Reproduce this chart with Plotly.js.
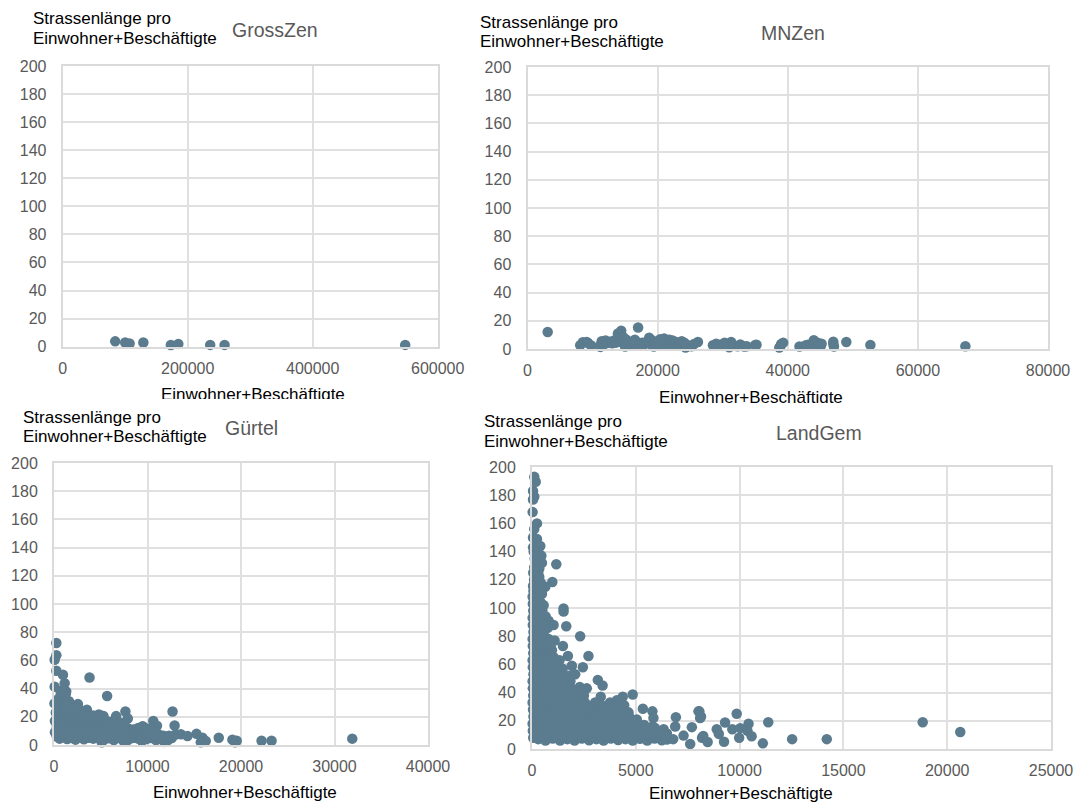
<!DOCTYPE html>
<html><head><meta charset="utf-8">
<script src="https://cdn.plot.ly/plotly-3.0.1.min.js"></script>
<style>
html,body{margin:0;padding:0;background:#fff;overflow:hidden}
#chart{width:1077px;height:804px}
.cut{position:absolute;background:#fff;height:6px}
</style></head><body>
<div id="chart"></div>
<div class="cut" style="left:150px;top:399px;width:210px"></div>
<div class="cut" style="left:640px;top:403px;width:220px"></div>
<script>
const grossZen = [[84000,3.8],[100000,3],[107000,2.3],[129000,3],[173000,1.2],[185000,2],[236000,1.3],[259000,1.3],[548000,1.3]];

const mnZen = [[3100,12],[8100,2.6],[8500,4.8],[9100,5],[9300,4.2],[9800,2.5],[11200,1.5],[11400,5.5],[11300,3.2],[11800,3.5],[12000,6],[12200,4.2],[12700,5.2],[13000,4],[13300,6],[13600,4.5],[13900,11],[14000,5.5],[14300,7.5],[14400,13],[14500,9.5],[14700,4],[14800,8],[15000,1.8],[15200,6.5],[15400,3.2],[15600,5],[15800,2.5],[16200,4],[16500,6.5],[16700,2.5],[16800,5],[17000,15.2],[17200,3.2],[17600,4.5],[18000,3.5],[18400,5.5],[18700,8],[18900,3.5],[19200,6],[19400,1.8],[19600,4],[19900,2.5],[20200,5],[20400,7],[20600,3],[20900,5],[21000,7.5],[21200,2.5],[21500,4.5],[21800,6.5],[22000,2.5],[22300,6],[22500,3.5],[22800,5],[23000,2.5],[23400,4],[23700,5.5],[23900,2.2],[24100,4.5],[24300,1],[24500,3],[25200,2],[25600,3.5],[26200,5],[28500,2.6],[29000,3.8],[29600,3],[30300,4.5],[30700,2.5],[31000,1.2],[31300,5],[31500,3],[32300,2],[32700,3.2],[33300,1.8],[33700,2],[35000,2.8],[35200,3],[38700,1],[38900,2.2],[39000,3.5],[39300,4.5],[41800,1.8],[42700,2.5],[43100,3],[44000,6.2],[44100,3],[44600,4.5],[45100,2.5],[45200,3.8],[47000,5.2],[47000,3.5],[47100,1.8],[49000,5],[52700,2.8],[67300,2]];

const guertelOutliers = [[250,72.4],[250,63.6],[70,60.5],[250,52.6],[960,49.8],[3800,47.9],[5680,34.8],[70,41.4],[1140,43.8],[1310,37.9],[50,29.5],[3520,25],[2560,29],[1500,30.7],[6640,20.5],[7640,23.8],[7890,18.8],[4800,21.7],[12680,23.8],[10620,17],[11010,13.6],[12900,13.8],[9480,13.3],[13570,7.6],[14280,6.4],[15240,7.9],[15880,5.2],[16230,2.9],[15700,1.9],[17620,5.2],[19080,3.8],[19360,1.9],[19540,3],[22200,3],[23270,3],[31900,4.5]];
const guertelDense = [[300,6],[600,4.5],[1000,6],[1400,4.2],[1900,5],[2300,3.8],[2800,5.5],[3200,4],[3700,5.2],[4200,4.5],[4700,5.5],[5100,2],[5400,4],[5900,4.8],[6400,3.5],[6900,5.2],[7400,3.2],[7900,3.5],[8400,5],[9000,4.5],[9400,2.8],[9900,4.2],[10400,5],[10900,3.5],[11400,4.2],[11800,2.2],[12200,3.5],[12600,5],
[100,9],[500,9],[900,10],[1300,8.5],[1800,9.5],[2200,8.2],[2700,9.6],[3200,8.5],[3700,10],[4200,8.5],[4700,9.5],[5200,8],[5700,9.8],[6200,8.3],[6700,9.2],[7200,8],[7700,9.5],[8200,8],[8700,9],[9200,8],[9700,9.5],[10200,8.5],[10700,9],[11200,7.5],[11700,6.5],[12300,6.5],[13000,7.5],
[100,17],[300,13],[700,14],[1100,13],[1500,14.5],[2000,13],[2500,14],[3000,12.5],[3500,14],[4000,13],[4500,14],[5000,13],[5500,13.5],[6000,12.5],[6500,13],[7000,12],[7500,13],[8000,11.5],[8500,11],[9000,12],[9500,13],[10000,11.5],[10500,11],
[200,18],[600,19],[1000,18],[1400,19.5],[1900,18],[2400,18.5],[2900,17.5],[3400,18],[3900,17],[4400,17.5],[4900,18.5],[5400,17],[5900,16.5],[6400,17],[7000,16],[7500,15.5],
[200,23],[600,24],[1000,23],[1400,24.5],[1900,23],[2400,22.5],[3000,22],[3500,21],[4600,20.5],[5000,21],[5300,20.5],
[300,28],[700,29],[1100,28],[1500,29],[2000,28],[2500,26.5],
[500,33],[800,34],[1200,33],[1600,31],
[700,38],[1000,39],[1250,36]];
const guertelFill = [[1700,26],[2200,25],[2800,24.5],[900,31],[1300,27],[3300,16],[3800,15],[4300,16],[4800,16],[5300,15],[5800,15],[6300,15],[6800,14.5],[7300,11],[7800,6.5],[8300,6.5],[8800,6.5],[9300,6],[9800,6.5],[10300,6.5],[10800,6],[11300,6],[600,7],[1100,7.5],[1600,7],[2100,6.5],[2600,7],[3100,6.5],[3600,7],[4100,6.5],[4600,7],[5100,6],[5600,6.5],[6100,6.5],[6600,6.5],[7100,6],[7600,6],[4200,21],[3700,20],[6600,10.5],[5600,10.5],[4600,11],[3600,11],[2600,11],[1600,11],[600,11.5]];

const landGemOutliers = [[110,193],[180,189.5],[50,183],[110,179],[50,177],[30,168],[240,160],[110,156],[50,150],[240,149],[50,143],[400,144],[450,137],[1170,131],[480,132],[110,129],[240,125],[980,118.5],[640,115],[50,115.6],[1520,99.6],[1520,97.5],[800,91],[1040,88],[1650,87],[2320,80],[1090,77],[1490,73],[960,70],[1730,66],[2720,66],[1920,59],[2450,58],[1330,63],[2080,53],[3170,49],[3400,45],[2640,43],[2300,44],[3310,37],[3040,33],[4370,37],[4850,38.6],[4080,34.5],[3760,33],[4440,31],[5340,28.6],[5800,26.7],[5850,22],[6930,22.6],[8020,26.7],[8100,22],[7700,15.5],[6900,16],[6340,14],[7620,3.6],[8190,8],[7300,9.5],[6500,6.7],[8060,26.7],[8140,23],[8250,9.3],[8460,5],[8900,14],[9000,10.7],[9250,5.2],[9300,18.8],[9650,14],[9860,25],[9980,8],[10030,14.8],[10430,17.9],[10380,13],[10580,9],[11120,4],[11380,19],[12530,7],[14200,7],[18820,19],[20630,12]];
const landGemColumn = [[60,8],[40,13],[30,18],[70,23],[50,28],[30,33],[60,38],[40,43],[30,48],[70,53],[40,58],[30,63],[60,68],[40,73],[30,78],[70,83],[40,88],[30,93],[60,98],[40,103],[30,108],[70,112],[100,120],[60,125],[130,135],[80,140],[200,108],[230,115],[180,122],[280,118],[250,132],[350,128],[300,140],[380,112],[420,104],[480,110],[170,100],[330,96],[500,98],[560,102],[190,90],[370,86],[550,92],[660,94],[200,80],[400,78],[600,84],[760,86],[200,70],[400,72],[620,75],[800,78],[180,62],[380,64],[580,66],[780,70]];
const landGemDense = [[300,7],[650,6],[1000,7.5],[1350,6],[1700,7],[2050,6],[2400,7.5],[2750,6.2],[3100,7],[3450,6],[3800,7.5],[4150,6.3],[4500,7],[4850,6],[5200,7.2],[5550,6],[5900,7.5],[6250,6.2],[6800,7],
[150,12],[500,12.5],[850,11.5],[1200,13],[1550,11.5],[1900,12.5],[2250,11.5],[2600,13],[2950,11.8],[3300,12.5],[3650,11.5],[4000,13],[4350,11.5],[4700,12.5],[5050,11.5],[5400,13],[5750,11.8],[6100,12.5],[6500,11],
[150,17],[500,18],[850,16.5],[1200,18],[1550,16.5],[1900,18],[2250,16.5],[2600,18],[2950,16.8],[3300,17.5],[3650,16.5],[4000,18],[4350,16.5],[4700,17.5],[5050,16.5],[5400,17],[5800,16],
[150,22],[500,23],[850,21.5],[1200,23],[1550,21.5],[1900,23],[2250,21.5],[2600,23],[2950,21.8],[3300,22.5],[3650,21.5],[4000,23],[4350,22],[4700,22.5],[5050,21],
[150,27],[500,28],[850,26.5],[1200,28],[1550,26.5],[1900,28],[2250,26.5],[2600,28],[2950,26.8],[3300,27],[3650,26.5],[4000,28],[4300,27],[4650,26],
[150,32],[500,33],[850,31.5],[1200,33],[1550,31.5],[1900,33],[2250,31.5],[2550,33],[2900,30],[3350,31],[3700,30],[4000,31],
[150,37],[500,38],[850,36.5],[1200,38],[1550,36.5],[1900,38],[2250,36.5],[2500,38],
[150,42],[500,43],[850,41.5],[1200,43],[1550,41.5],[1900,43],[2150,41.5],
[150,47],[500,48],[850,46.5],[1200,48],[1550,46.5],[1850,48],
[150,52],[500,53],[850,51.5],[1200,53],[1500,51.5],[1800,52],
[150,57],[500,58],[850,56.5],[1200,58],[1480,57],
[220,60],[600,61],[950,61],[1250,60],
[700,66],[1050,65],[900,73]];
const landGemFill = [[480,9],[820,9],[1170,9.5],[1520,9],[1870,9.5],[2220,9],[2570,9.5],[2920,9],[3270,9.5],[3620,9],[3970,9.5],[4320,9],[4670,9.5],[5020,9],[5370,9.5],[5720,9],[6070,9.5],[6420,9],
[320,15],[670,14.5],[1020,15],[1370,14.5],[1720,15],[2070,14.5],[2420,15],[2770,14.5],[3120,15],[3470,14.5],[3820,15],[4170,14.5],[4520,15],[4870,14.5],[5220,15],[5570,14.5],[5920,15],
[320,20],[670,20],[1020,19.5],[1370,20],[1720,19.5],[2070,20],[2420,19.5],[2770,20],[3120,19.5],[3470,20],[3820,19.5],[4170,20],[4520,19.5],[4870,20],
[320,25],[670,25],[1020,24.5],[1370,25],[1720,24.5],[2070,25],[2420,24.5],[2770,25],[3120,24.5],[3470,25],[3820,24.5],[4170,25],
[320,30],[670,30],[1020,29.5],[1370,30],[1720,29.5],[2070,30],[2420,29.5],[2770,29],
[320,35],[670,35],[1020,34.5],[1370,35],[1720,34.5],[2070,35],[2350,34],
[320,40],[670,40],[1020,39.5],[1370,40],[1720,39.5],[2050,40],
[320,45],[670,45],[1020,44.5],[1370,45],[1720,44.5],
[320,50],[670,50],[1020,49.5],[1370,50],[1700,50],
[320,55],[670,55],[1020,54.5],[1350,55],
[450,60],[780,59],[1100,60],[550,72],[760,64],[450,82],[300,75],[500,90],[280,104],[420,118],[300,125],[200,130],[350,122]];

const yTicks = [0,20,40,60,80,100,120,140,160,180,200];
const W = 1077, H = 804, markerColor = '#5B7B8E', font = 'Liberation Sans, Arial, sans-serif';

const panels = [
  {pts:[grossZen], xMax:600000, dx:200000, x0:62.7, x1:437.7, yT:66, yB:346.7, name:'GrossZen', nameX:275, nameY:30,
   lines:[[31.5,19],[31.5,39]], xT:[253,394]},
  {pts:[mnZen], xMax:80000, dx:20000, x0:527.5, x1:1048, yT:67, yB:349, name:'MNZen', nameX:793, nameY:33,
   lines:[[478.5,22],[478.5,41]], xT:[751,397]},
  {pts:[guertelOutliers,guertelDense,guertelFill], xMax:40000, dx:10000, x0:54, x1:428, yT:463, yB:745, name:'Gürtel', nameX:251, nameY:428,
   lines:[[21.5,417],[21.5,436]], xT:[245,792]},
  {pts:[landGemOutliers,landGemColumn,landGemDense,landGemFill], xMax:25000, dx:5000, x0:532, x1:1051, yT:467, yB:749, name:'LandGem', nameX:819, nameY:433,
   lines:[[482.5,421],[482.5,441]], xT:[741,793.5]}
];
const yLines = ['Strassenlänge pro','Einwohner+Beschäftigte'];

const traces = [], annotations = [], layout = {
  width:W, height:H, margin:{l:0,r:0,t:0,b:0}, paper_bgcolor:'#fff', plot_bgcolor:'#fff', showlegend:false,
  font:{family:font}
};
const px = v => v/W, py = v => 1-v/H;
const note = (text,x,y,size,color,anchor) => annotations.push({text,xref:'paper',yref:'paper',x:px(x),y:py(y),xanchor:anchor,yanchor:'middle',showarrow:false,font:{family:font,size,color},borderpad:0});

panels.forEach((p,i) => {
  const s = i ? String(i+1) : '';
  const all = p.pts.flat();
  traces.push({type:'scatter',mode:'markers',xaxis:'x'+s,yaxis:'y'+s,x:all.map(d=>d[0]),y:all.map(d=>d[1]),cliponaxis:false,
    marker:{color:markerColor,size:10.5,line:{width:0}},hoverinfo:'x+y'});
  layout['xaxis'+s] = {domain:[px(p.x0),px(p.x1)],anchor:'y'+s,range:[0,p.xMax],tick0:0,dtick:p.dx,tickformat:'d',showgrid:true,gridcolor:'#E0E0E0',gridwidth:2,
    zeroline:false,showline:true,mirror:true,linecolor:'#DADADA',linewidth:2,ticks:'outside',ticklen:6,tickcolor:'rgba(0,0,0,0)',tickfont:{family:font,size:16,color:'#595959'}};
  layout['yaxis'+s] = {domain:[py(p.yB),py(p.yT)],anchor:'x'+s,range:[0,200],tickmode:'array',tickvals:yTicks,ticktext:yTicks.map(String),showgrid:true,gridcolor:'#E0E0E0',gridwidth:2,
    zeroline:false,showline:true,mirror:true,linecolor:'#DADADA',linewidth:2,ticks:'outside',ticklen:11,tickcolor:'rgba(0,0,0,0)',tickfont:{family:font,size:16,color:'#595959'}};
  yLines.forEach((t,k) => note(t,p.lines[k][0],p.lines[k][1],17,'#000','left'));
  note(p.name,p.nameX,p.nameY,19.5,'#595959','center');
  note('Einwohner+Beschäftigte',p.xT[0],p.xT[1],17,'#000','center');
});
layout.annotations = annotations;
Plotly.newPlot('chart',traces,layout,{displayModeBar:false,staticPlot:true});
</script>
</body></html>
